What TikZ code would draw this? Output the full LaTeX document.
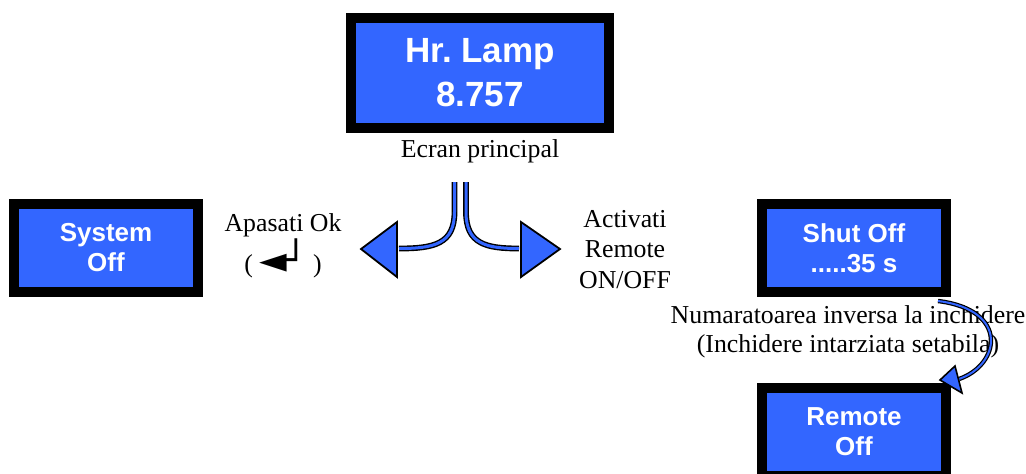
\documentclass[tikz,border=0pt]{standalone}
\usepackage{fontspec}
\usetikzlibrary{calc}
\setmainfont{Liberation Serif}
\newfontfamily\boxfont{Liberation Sans}
\newfontfamily\symfont{DejaVu Sans}
\definecolor{lcdblue}{RGB}{51,102,255}
\frenchspacing
\begin{document}
\begin{tikzpicture}[x=1pt,y=-1pt,
  lcd/.style={draw=black, line width=10pt, fill=lcdblue, text=white,
    font=\boxfont\bfseries\fontsize{26}{30}\selectfont, align=center,
    inner sep=0pt, minimum width=184pt, minimum height=88pt},
  lbl/.style={font=\fontsize{25.8}{30}\selectfont, align=center, inner sep=0pt},
  shaft/.style={draw=black, double=lcdblue, double distance=3pt, line width=1.4pt},
  head/.style={draw=black, fill=lcdblue, line width=1.8pt, line join=miter}]
\useasboundingbox (0,0) rectangle (1026,474);
\clip (0,0) rectangle (1026,474);
% screens
\node[lcd, minimum width=258pt, minimum height=110pt,
  font=\boxfont\bfseries\fontsize{35}{45}\selectfont] (main) at (480,73) {\raisebox{-3pt}{Hr. Lamp}\\\raisebox{-2pt}{8.757}};
\node[lcd] (sys) at (106,248) {System\\Off};
\node[lcd] (shut) at (854,248) {Shut Off\\.....35 s};
\node[lcd] (remote) at (854,432) {Remote\\Off};
% labels (base anchor = baseline of the last line)
\node[lbl, anchor=base] (mainlbl) at (480,157) {Ecran principal};
\node[lbl, anchor=base, font=\fontsize{25.8}{33}\selectfont] (oklbl) at (283,272) {Apasati Ok\\( {\symfont\fontsize{36}{33}\selectfont ◄\kern-2pt┘} )};
\node[lbl, anchor=base, font=\fontsize{25.8}{30.5}\selectfont] (remlbl) at (625,288) {Activati\\Remote\\ON/OFF};
\node[lbl, anchor=base, font=\fontsize{25.8}{29}\selectfont] (cntlbl) at (848,352) {Numaratoarea inversa la inchidere\\(Inchidere intarziata setabila)};
% split arrows
\coordinate (ls) at (454.5,182);
\coordinate (rs) at (466,182);
\coordinate (lt) at (361,249);
\coordinate (rt) at (560,249);
\draw[shaft] (ls) -- (454.5,212) .. controls (454.5,244) and (434,248.5) .. (399,248.5);
\draw[shaft] (rs) -- (466,212) .. controls (466,244) and (486,248.5) .. (519,248.5);
\draw[head] (lt) -- (397,222) -- (397,277) -- cycle;
\draw[head] (rt) -- (521,222) -- (521,277) -- cycle;
% countdown arrow
\coordinate (c0) at ($(shut.south east)+(-13,4)$);
\coordinate (c1) at (959,379);
\coordinate (ct) at ($(remote.north east)+(-11,-3)$);
\draw[shaft, double distance=2pt, line width=1.2pt] (c0) .. controls (1010,310) and (1000,365) .. (c1);
\draw[head, line width=1.6pt] (ct) -- (955,366) -- (962,393) -- cycle;
\end{tikzpicture}
\end{document}
